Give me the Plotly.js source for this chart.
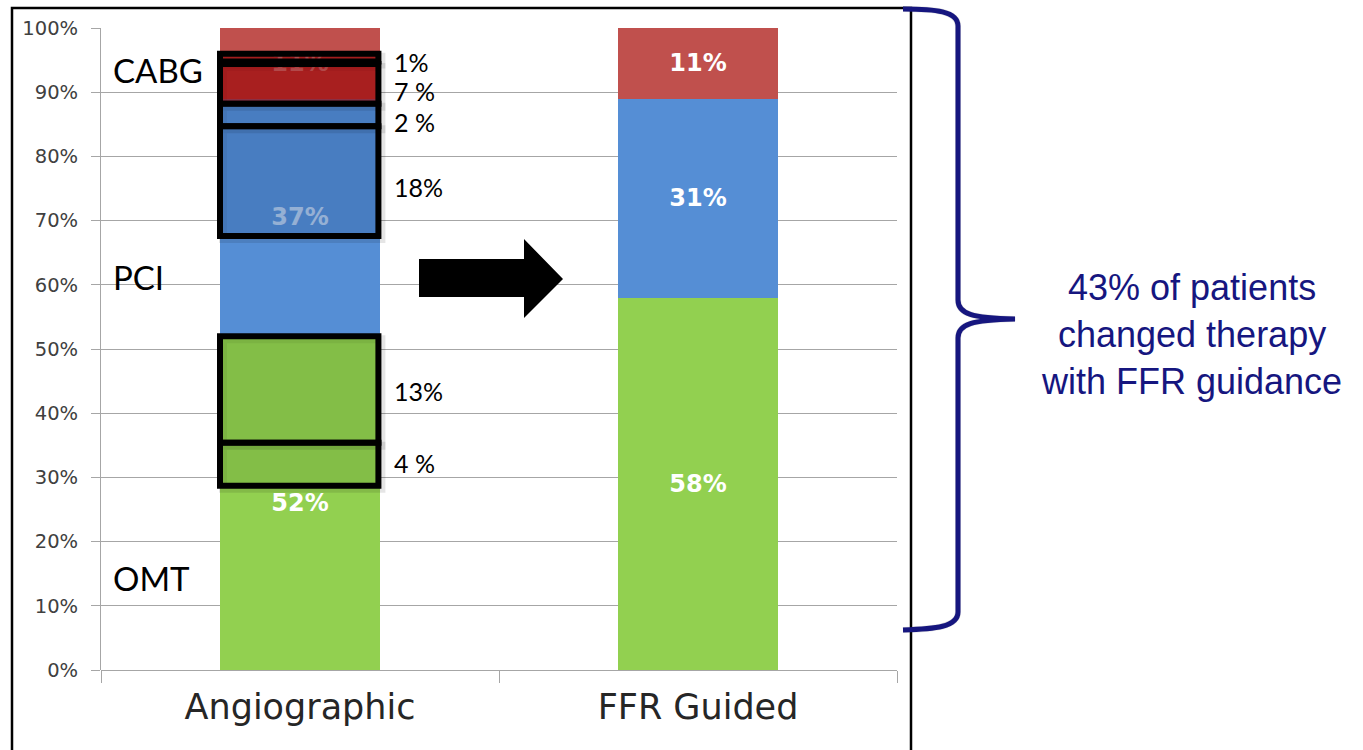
<!DOCTYPE html>
<html>
<head>
<meta charset="utf-8">
<script src="https://cdn.plot.ly/plotly-3.0.1.min.js"></script>
<style>
  html, body { margin: 0; padding: 0; background: #ffffff; }
  #chart { width: 1363px; height: 750px; }
</style>
</head>
<body>
<div id="chart"></div>
<script>
// ---- data ----
const categories = ['Angiographic', 'FFR Guided'];
const omtValues  = [52, 58];
const pciValues  = [37, 31];
const cabgValues = [11, 11];
const therapyNames = ['OMT', 'PCI', 'CABG'];
const yTickValues = [0, 10, 20, 30, 40, 50, 60, 70, 80, 90, 100];
// share of patients whose therapy changed, per highlighted slice
const changeValues = [1, 7, 2, 18, 13, 4];
const changeLabels = ['1%', '7 %', '2 %', '18%', '13%', '4 %'];
const summaryLines = ['43% of patients', 'changed therapy', 'with FFR guidance'];

// ---- geometry / styling ----
const FIG_W = 1363, FIG_H = 750;
const M = { l: 101, r: 466, t: 28, b: 80 };
const PW = FIG_W - M.l - M.r, PH = FIG_H - M.t - M.b;
const px = x => (x - M.l) / PW;          // pixel x -> paper x
const py = y => (M.t + PH - y) / PH;     // pixel y -> paper y

const colors = { omt: '#92d050', pci: '#558ed5', cabg: '#c0504d' };
const navy = '#16167f';

// highlight boxes on the angiographic bar: [bottom, top] in percent, plus tint
const boxBands = [
  [94.8, 96.0], [88.2, 94.4], [84.7, 88.2], [67.6, 84.7], [35.4, 52.0], [28.7, 35.4]
];
const boxTints = [
  'rgba(158,12,14,0.72)', 'rgba(158,12,14,0.72)', 'rgba(62,112,176,0.55)',
  'rgba(62,112,176,0.55)', 'rgba(115,172,62,0.5)', 'rgba(115,172,62,0.5)'
];
const changeLabelY = [94.7, 90.2, 85.4, 75.2, 43.5, 32.3];
const therapyLabelY = [14.3, 61.2, 93.5];

function barTrace(name, vals, color) {
  return {
    type: 'bar', name: name, x: categories, y: vals,
    marker: { color: color, line: { width: 0 } },
    width: 0.4,
    text: vals.map(v => v + '%'),
    textposition: 'inside', insidetextanchor: 'middle', textangle: 0,
    constraintext: 'none',
    textfont: { family: 'DejaVu Sans', size: 24, color: '#ffffff', weight: 'bold' },
    hoverinfo: 'skip'
  };
}

const traces = [
  barTrace(therapyNames[0], omtValues, colors.omt),
  barTrace(therapyNames[1], pciValues, colors.pci),
  barTrace(therapyNames[2], cabgValues, colors.cabg)
];

const shapes = [];
// outer frame around the chart
shapes.push({
  type: 'rect', xref: 'paper', yref: 'paper',
  x0: px(12), x1: px(911), y0: py(770), y1: py(8),
  line: { color: '#000000', width: 2.5 }, fillcolor: 'rgba(0,0,0,0)', layer: 'above'
});
// highlight boxes (soft shadow first, then the box)
const bx0 = -0.201, bx1 = 0.197;
const sdx = 3 / (PW / 2), sdy = 3 / PH * 100;
boxBands.forEach(b => {
  shapes.push({
    type: 'rect', xref: 'x', yref: 'y',
    x0: bx0 + sdx, x1: bx1 + sdx, y0: b[0] - sdy, y1: b[1] - sdy,
    line: { color: 'rgba(0,0,0,0.10)', width: 8 }, fillcolor: 'rgba(0,0,0,0)', layer: 'above'
  });
});
boxBands.forEach((b, i) => {
  shapes.push({
    type: 'rect', xref: 'x', yref: 'y',
    x0: bx0, x1: bx1, y0: b[0], y1: b[1],
    line: { color: '#000000', width: 6 }, fillcolor: boxTints[i], layer: 'above'
  });
});
// block arrow between the bars
const arrowPts = [[419, 259], [524, 259], [524, 239], [563, 279], [524, 318], [524, 297], [419, 297]];
shapes.push({
  type: 'path', xref: 'paper', yref: 'paper',
  path: 'M ' + arrowPts.map(p => px(p[0]) + ',' + py(p[1])).join(' L ') + ' Z',
  fillcolor: '#000000', line: { color: '#000000', width: 0 }, layer: 'above'
});
// curly brace on the right
const P = (x, y) => px(x) + ',' + py(y);
const bracePath = [
  'M', P(903, 9), 'C', P(935, 9), P(958, 11), P(958, 26),
  'L', P(958, 300), 'C', P(958, 314), P(972, 318), P(1015, 319),
  'C', P(972, 320), P(958, 324), P(958, 338),
  'L', P(958, 612), 'C', P(958, 627), P(935, 629), P(903, 630)
].join(' ');
shapes.push({
  type: 'path', xref: 'paper', yref: 'paper', path: bracePath,
  line: { color: 'rgba(0,0,0,0.12)', width: 6 }, layer: 'above'
});
shapes.push({
  type: 'path', xref: 'paper', yref: 'paper', path: bracePath,
  line: { color: navy, width: 5 }, layer: 'above'
});

const annotations = [];
const calibri = 'Lato, "Noto Sans", sans-serif';
// therapy names on the left
therapyNames.forEach((n, i) => {
  annotations.push({
    xref: 'x', yref: 'y', x: -0.475, y: therapyLabelY[i], text: n,
    xanchor: 'left', yanchor: 'middle', showarrow: false,
    font: { family: calibri, size: 33, color: '#000000' }
  });
});
// changed-share labels to the right of the boxes
changeLabels.forEach((t, i) => {
  annotations.push({
    xref: 'x', yref: 'y', x: 0.232, y: changeLabelY[i], text: t,
    xanchor: 'left', yanchor: 'middle', showarrow: false,
    font: { family: calibri, size: 25, color: '#000000' }
  });
});
// summary text
annotations.push({
  xref: 'paper', yref: 'paper', x: px(1191), y: py(334),
  text: summaryLines.join('<br>'), align: 'center',
  xanchor: 'center', yanchor: 'middle', showarrow: false,
  font: { family: 'Liberation Sans, Arial, sans-serif', size: 36, color: navy }
});

const layout = {
  width: FIG_W, height: FIG_H,
  margin: M,
  paper_bgcolor: '#ffffff', plot_bgcolor: '#ffffff',
  barmode: 'stack', showlegend: false,
  xaxis: {
    type: 'category', categoryorder: 'array', categoryarray: categories,
    range: [-0.5, 1.5],
    showgrid: false, zeroline: false, showline: false,
    ticks: 'outside', tickson: 'boundaries', ticklen: 12, tickcolor: '#a6a6a6', tickwidth: 1,
    ticklabelstandoff: 13,
    tickfont: { family: 'DejaVu Sans', size: 35, color: '#262626' }
  },
  yaxis: {
    range: [0, 100], tickvals: yTickValues, ticktext: yTickValues.map(v => v + '%'),
    showgrid: true, gridcolor: '#a6a6a6', gridwidth: 1,
    zeroline: true, zerolinecolor: '#a6a6a6', zerolinewidth: 1,
    showline: true, linecolor: '#a6a6a6', linewidth: 1,
    ticks: 'outside', ticklen: 9, tickcolor: '#a6a6a6', tickwidth: 1,
    ticklabelstandoff: 9,
    tickfont: { family: 'DejaVu Sans', size: 19.5, color: '#404040' }
  },
  shapes: shapes,
  annotations: annotations
};

Plotly.newPlot('chart', traces, layout, { displayModeBar: false, staticPlot: true });
</script>
</body>
</html>
